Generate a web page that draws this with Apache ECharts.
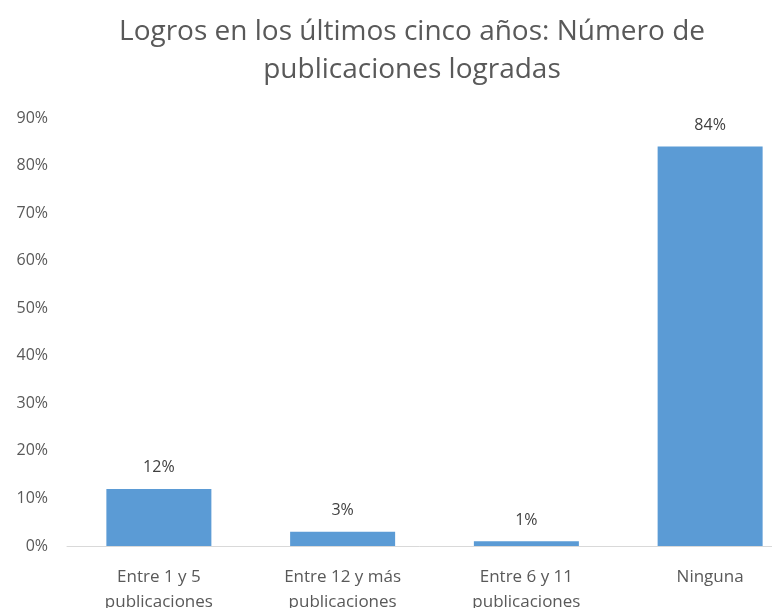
<!DOCTYPE html>
<html>
<head>
<meta charset="utf-8">
<script src="https://cdn.jsdelivr.net/npm/echarts@6/dist/echarts.min.js"></script>
<style>html,body{margin:0;padding:0;background:#fff}#c{width:772px;height:608px}</style>
</head>
<body>
<div id="c"></div>
<script>
const categories = ["Entre 1 y 5\npublicaciones", "Entre 12 y más\npublicaciones", "Entre 6 y 11\npublicaciones", "Ninguna"];
const values = [12, 3, 1, 84];
const valueLabels = ["12%", "3%", "1%", "84%"];
const yTicks = [0, 10, 20, 30, 40, 50, 60, 70, 80, 90];

const FONT = 'Open Sans';
const chart = echarts.init(document.getElementById('c'), null, {renderer: 'canvas'});
chart.setOption({
  animation: false,
  title: {
    text: "Logros en los últimos cinco años: Número de\npublicaciones logradas",
    left: 407, top: 8, textAlign: 'center',
    textStyle: {fontFamily: FONT, fontSize: 28, fontWeight: 'normal', color: '#595959', lineHeight: 38}
  },
  grid: {left: 67, top: 118, width: 735, height: 428, containLabel: false, outerBoundsMode: 'none'},
  xAxis: {
    type: 'category', data: categories,
    axisLine: {lineStyle: {color: '#d9d9d9', width: 1}},
    axisTick: {show: false},
    axisLabel: {fontFamily: FONT, fontSize: 17, color: '#595959', lineHeight: 25, margin: 19, interval: 0}
  },
  yAxis: {
    type: 'value', min: 0, max: 90, interval: 10,
    splitLine: {show: false},
    axisLine: {show: false}, axisTick: {show: false},
    axisLabel: {fontFamily: FONT, fontSize: 16, color: '#595959', margin: 19, formatter: v => yTicks.includes(v) ? v + '%' : ''}
  },
  series: [{
    type: 'bar', data: values, barWidth: 105,
    itemStyle: {color: '#5b9bd5'},
    label: {show: true, position: 'top', distance: 13, fontFamily: FONT, fontSize: 16, color: '#404040',
      formatter: p => valueLabels[p.dataIndex]}
  }]
});
</script>
</body>
</html>
